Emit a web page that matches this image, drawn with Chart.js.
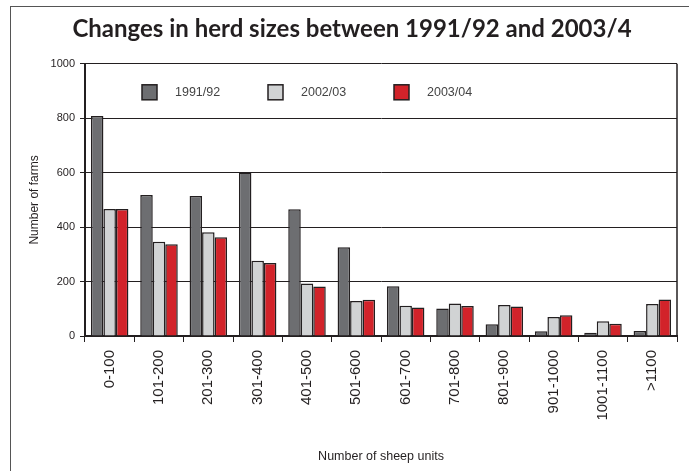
<!DOCTYPE html>
<html>
<head>
<meta charset="utf-8">
<script src="https://cdn.jsdelivr.net/npm/chart.js@4"></script>
<style>
    html, body { margin: 0; padding: 0; background: #fff; }
    #wrap { width: 689px; height: 471px; position: relative; }
</style>
</head>
<body>
<div id="wrap"><canvas id="herd-chart" width="689" height="471"></canvas></div>
<script>
// Chart data
const categories = ['0-100', '101-200', '201-300', '301-400', '401-500', '501-600',
    '601-700', '701-800', '801-900', '901-1000', '1001-1100', '>1100'];
const seriesLabels = ['1991/92', '2002/03', '2003/04'];
const farms1991 = [808, 518, 514, 601, 466, 326, 183, 101, 43, 17, 12, 18];
const farms2002 = [467, 346, 381, 276, 193, 129, 111, 119, 114, 70, 54, 118];
const farms2003 = [467, 337, 363, 268, 182, 133, 105, 110, 108, 76, 45, 134];
const yTicks = [0, 200, 400, 600, 800, 1000];

const colors = ['#6d6e71', '#d1d3d4', '#d2232a'];
const ink = '#231f20';

// Frame, right border and in-plot legend
const decorPlugin = {
    id: 'decor',
    beforeDraw(chart) {
        const c = chart.ctx;
        c.save();
        c.fillStyle = '#fff';
        c.fillRect(0, 0, chart.width, chart.height);
        c.strokeStyle = '#555';
        c.lineWidth = 1;
        c.strokeRect(10.5, 6.5, 720, 500);
        c.restore();
    },
    afterDraw(chart) {
        const c = chart.ctx;
        const a = chart.chartArea;
        c.save();
        c.strokeStyle = ink;
        c.lineWidth = 1.5;
        c.beginPath();
        c.moveTo(a.right, a.top);
        c.lineTo(a.right, a.bottom);
        c.stroke();

        c.font = '12.5px "Liberation Sans", Arial, sans-serif';
        c.textBaseline = 'middle';
        chart.data.datasets.forEach((ds, i) => {
            const x = a.left + 57 + i * 126;
            const y = a.top + 28;
            c.fillStyle = ds.backgroundColor;
            c.fillRect(x, y - 7, 15, 15);
            c.strokeStyle = ink;
            c.lineWidth = 1.5;
            c.strokeRect(x, y - 7, 15, 15);
            c.fillStyle = '#444';
            c.fillText(ds.label, x + 33, y + 1);
        });
        c.restore();
    }
};

const ctx = document.getElementById('herd-chart').getContext('2d');
new Chart(ctx, {
    type: 'bar',
    data: {
        labels: categories,
        datasets: [farms1991, farms2002, farms2003].map((vals, i) => ({
            label: seriesLabels[i],
            data: vals,
            backgroundColor: colors[i],
            borderColor: ink,
            borderWidth: 1.5,
            barPercentage: 1,
            categoryPercentage: 0.76
        }))
    },
    options: {
        responsive: false,
        animation: false,
        layout: { padding: { left: 27, right: 12, top: 0, bottom: 0 } },
        plugins: {
            legend: { display: false },
            tooltip: { enabled: false },
            title: {
                display: true,
                text: 'Changes in herd sizes between 1991/92 and 2003/4',
                color: ink,
                font: { family: 'Lato, "Open Sans", sans-serif', size: 24, weight: 'bold' },
                padding: { top: 15, bottom: 20 }
            }
        },
        scales: {
            x: {
                grid: { drawOnChartArea: false, tickLength: 6, color: ink, lineWidth: 1 },
                border: { color: ink, width: 2 },
                ticks: {
                    color: ink,
                    minRotation: 90,
                    maxRotation: 90,
                    padding: 8,
                    font: { family: '"Liberation Sans", Arial, sans-serif', size: 15 }
                },
                title: {
                    display: true,
                    text: 'Number of sheep units',
                    color: ink,
                    font: { family: '"Liberation Sans", Arial, sans-serif', size: 12.5 },
                    padding: { top: 0, bottom: 7 }
                },
                afterFit(scale) { scale.height = 135; }
            },
            y: {
                min: 0,
                max: 1000,
                afterBuildTicks(scale) { scale.ticks = yTicks.map(v => ({ value: v })); },
                grid: { color: ink, lineWidth: 1, tickLength: 5 },
                border: { color: ink, width: 2 },
                ticks: {
                    color: ink,
                    padding: 5,
                    callback: v => String(v),
                    font: { family: '"Liberation Sans", Arial, sans-serif', size: 11 }
                },
                title: {
                    display: true,
                    text: 'Number of farms',
                    color: ink,
                    font: { family: '"Liberation Sans", Arial, sans-serif', size: 12 },
                    padding: { top: 0, bottom: 5 }
                },
                afterFit(scale) { scale.width = 58; }
            }
        }
    },
    plugins: [decorPlugin]
});
</script>
</body>
</html>
